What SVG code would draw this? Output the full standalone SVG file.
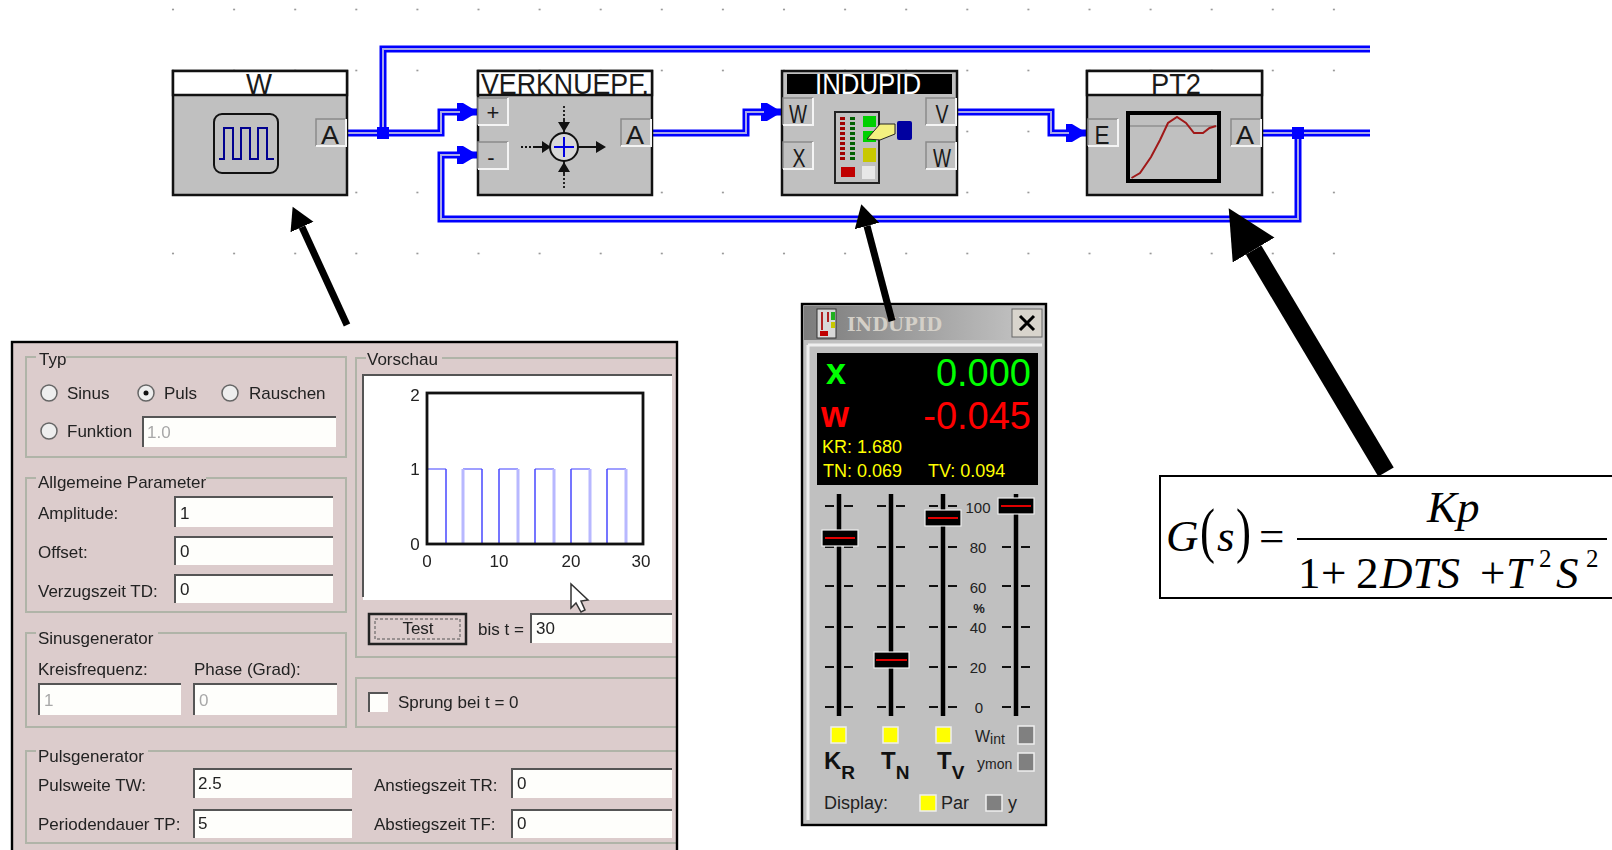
<svg xmlns="http://www.w3.org/2000/svg" width="1612" height="850" viewBox="0 0 1612 850">
<style>
text{font-family:"Liberation Sans",Arial,sans-serif}
.blk{fill:#c0c0c0;stroke:#111;stroke-width:2.5}
.ttl{fill:#fff;stroke:#111;stroke-width:2.5}
.vt{font-size:29px;fill:#1a1a1a;text-anchor:middle}
.pt{font-size:25px;fill:#1a1a1a;text-anchor:middle}
.wo{fill:none;stroke:#0000ff;stroke-width:7}
.wi{fill:none;stroke:#a8a8e8;stroke-width:2}
.dlg{fill:#dccccc}
.bd{fill:none;stroke:#000;stroke-width:2.4}
.grp{fill:none;stroke:#b0b4a8;stroke-width:2}
.t{font-size:17px;fill:#222;filter:url(#soft)}
.dis{fill:#a8a8a8}
.inp{fill:#fefefb}
.ie{fill:none;stroke:#555;stroke-width:2}
.win{font-size:38px}
.y{font-size:18px;fill:#ffff00}
.lab{font-size:15px;fill:#222;text-anchor:middle}
.trk{stroke:#000;stroke-width:4.5}
.tk{stroke:#111;stroke-width:1.8}
.th{fill:#000;stroke:#eee;stroke-width:1.2}
.tr{stroke:#e00000;stroke-width:2}
.yel{fill:#ffff00;stroke:#eee;stroke-width:1.5}
.gry{fill:#808080;stroke:#eee;stroke-width:1.5}
.f{font-family:"Liberation Serif","Times New Roman",serif;fill:#000;font-size:45px}
.fi{font-style:italic}
.rad{fill:#eee;stroke:#666;stroke-width:1.5}
.arw{fill:none;stroke:#000}
</style>
<defs>
<filter id="soft" x="-5%" y="-20%" width="110%" height="140%"><feGaussianBlur stdDeviation="0.55"/></filter>
<pattern id="dots" patternUnits="userSpaceOnUse" x="142.45" y="-21" width="61.1" height="61"><circle cx="30.55" cy="30.5" r="1.1" fill="#999"/></pattern>
<g id="port"><rect width="30" height="27" fill="#c0c0c0"/><path d="M0 27V0H30" fill="none" stroke="#8a8a8a" stroke-width="1.5"/><path d="M0 27H30V0" fill="none" stroke="#f4f4f4" stroke-width="2"/></g>
<marker id="bh" markerUnits="userSpaceOnUse" markerWidth="24" markerHeight="20" refX="21" refY="9" orient="auto"><path d="M0 0H6L21 9L6 18H0Z" fill="#0000ff"/></marker>
<marker id="hthin" markerUnits="strokeWidth" markerWidth="4" markerHeight="4" refX="0" refY="1.8" orient="auto"><path d="M0 0L3.2 1.8L0 3.6Z" fill="#000"/></marker>
<marker id="hthick" markerUnits="strokeWidth" markerWidth="3.2" markerHeight="3.2" refX="0" refY="1.35" orient="auto"><path d="M0 0L2.7 1.35L0 2.7Z" fill="#000"/></marker>
<linearGradient id="tb" x1="0" x2="1" y1="0" y2="0"><stop offset="0" stop-color="#7c7c7c"/><stop offset="1" stop-color="#c8c8c8"/></linearGradient>
</defs>
<rect width="1612" height="850" fill="#fff"/>
<rect x="165" y="0" width="1205" height="262" fill="url(#dots)"/>

<g id="connectors">
<path class="wo" d="M347 133H441V112H478" marker-end="url(#bh)"/><path class="wi" d="M347 133H441V112H460"/>
<path class="wo" d="M383 133V49H1370"/><path class="wi" d="M383 133V49H1370"/>
<path class="wo" d="M652 133H746V112H782" marker-end="url(#bh)"/><path class="wi" d="M652 133H746V112H764"/>
<path class="wo" d="M957 112H1051V133H1087" marker-end="url(#bh)"/><path class="wi" d="M957 112H1051V133H1069"/>
<path class="wo" d="M1262 133H1370"/><path class="wi" d="M1262 133H1370"/>
<path class="wo" d="M1298 133V219H441V155H478" marker-end="url(#bh)"/><path class="wi" d="M1298 133V219H441V155H460"/>
<rect x="377" y="127" width="12" height="12" fill="#0000ff"/>
<rect x="1292" y="127" width="12" height="12" fill="#0000ff"/>
</g>

<g id="node-w">
<rect class="blk" x="173" y="71" width="174" height="124"/><rect class="ttl" x="173" y="71" width="174" height="24"/>
<text class="vt" x="259" y="94" textLength="26" lengthAdjust="spacingAndGlyphs">W</text>
<rect x="214" y="114" width="64" height="59" rx="8" fill="#c0c0c0" stroke="#111" stroke-width="2"/>
<path d="M219 159H224V128H233V159H241V128H250V159H258V128H267V159H274" fill="none" stroke="#000090" stroke-width="2"/>
<use href="#port" x="316" y="119"/><text class="pt" x="330" y="144" textLength="18" lengthAdjust="spacingAndGlyphs">A</text>
</g>

<g id="node-verknuepf">
<rect class="blk" x="478" y="71" width="174" height="124"/><rect class="ttl" x="478" y="71" width="174" height="24"/>
<text class="vt" x="565" y="94" textLength="168" lengthAdjust="spacingAndGlyphs">VERKNUEPF.</text>
<use href="#port" x="478" y="98"/><text class="pt" x="493" y="120" style="font-size:22px">+</text>
<use href="#port" x="478" y="142"/><text class="pt" x="491" y="165" style="font-size:22px">-</text>
<use href="#port" x="621" y="119"/><text class="pt" x="635" y="144" textLength="18" lengthAdjust="spacingAndGlyphs">A</text>
<circle cx="564" cy="147" r="14" fill="#d8d8d8" stroke="#111" stroke-width="2"/>
<path d="M554 147H574M564 137V157" stroke="#0000e0" stroke-width="2"/>
<path d="M535 147H550M578 147H600M564 120V133M564 161V174" stroke="#111" stroke-width="1.800"/>
<path d="M521 147H535M564 106V120M564 174V188" stroke="#111" stroke-width="1.800" stroke-dasharray="2 2"/>
<path d="M551 147L542 141V153ZM606 147L596 141V153ZM564 132L558 122H570ZM564 162L558 172H570Z" fill="#111"/>
</g>

<g id="node-indupid">
<rect class="blk" x="782" y="71" width="175" height="124"/>
<rect x="787" y="74" width="165" height="20" fill="#000"/>
<text class="vt" x="868" y="94" textLength="106" lengthAdjust="spacingAndGlyphs" style="fill:#fff">INDUPID</text>
<use href="#port" x="783" y="98"/><text class="pt" x="798" y="123" textLength="18" lengthAdjust="spacingAndGlyphs">W</text>
<use href="#port" x="783" y="142"/><text class="pt" x="799" y="167" textLength="13" lengthAdjust="spacingAndGlyphs">X</text>
<use href="#port" x="926" y="98"/><text class="pt" x="942" y="123" textLength="13" lengthAdjust="spacingAndGlyphs">V</text>
<use href="#port" x="926" y="142"/><text class="pt" x="942" y="167" textLength="18" lengthAdjust="spacingAndGlyphs">W</text>
<rect x="835" y="112" width="44" height="71" fill="#c0c0c0" stroke="#222" stroke-width="2"/>
<path d="M842.500 117V160" stroke="#a00000" stroke-width="5" stroke-dasharray="3 2"/><path d="M852.500 117V160" stroke="#006000" stroke-width="5" stroke-dasharray="3 2"/>
<rect x="863" y="116" width="13" height="11" fill="#00d000"/><rect x="863" y="131" width="13" height="11" fill="#00d000"/>
<rect x="863" y="148" width="13" height="14" fill="#c8c800"/>
<rect x="841" y="167" width="14" height="10" fill="#c00000"/>
<rect x="862" y="166" width="13" height="13" fill="#e8e8e8"/>
<path d="M867 139L880 124H895V134L880 140Z" fill="#f4f080" stroke="#222" stroke-width="1"/>
<rect x="897" y="121" width="15" height="19" rx="2" fill="#0000a0"/>
</g>

<g id="node-pt2">
<rect class="blk" x="1087" y="71" width="175" height="124"/><rect class="ttl" x="1087" y="71" width="175" height="24"/>
<text class="vt" x="1176" y="94" textLength="50" lengthAdjust="spacingAndGlyphs">PT2</text>
<use href="#port" x="1088" y="119"/><text class="pt" x="1102" y="144" textLength="15" lengthAdjust="spacingAndGlyphs">E</text>
<use href="#port" x="1231" y="119"/><text class="pt" x="1245" y="144" textLength="18" lengthAdjust="spacingAndGlyphs">A</text>
<path d="M1128 126H1219" stroke="#909090" stroke-width="1.500"/>
<rect x="1128" y="113" width="91" height="68" fill="none" stroke="#000" stroke-width="4"/>
<path d="M1131.500 178L1140 173L1151 157L1160 140L1168 123L1177 117L1186 123L1194 133L1203 133L1209.500 128L1216 126" fill="none" stroke="#a01818" stroke-width="2"/>
</g>

<g id="panel-generator">
<rect class="dlg" x="12" y="342" width="665" height="520"/>
<rect class="grp" x="26" y="357" width="320" height="100"/><rect x="36" y="350" width="30" height="14" fill="#dccccc"/>
<text class="t" x="39" y="365">Typ</text>
<circle class="rad" cx="49" cy="393" r="8"/><text class="t" x="67" y="399">Sinus</text>
<circle class="rad" cx="146" cy="393" r="8"/><circle cx="146" cy="393" r="2.500" fill="#111"/><text class="t" x="164" y="399">Puls</text>
<circle class="rad" cx="230" cy="393" r="8"/><text class="t" x="249" y="399">Rauschen</text>
<circle class="rad" cx="49" cy="431" r="8"/><text class="t" x="67" y="437">Funktion</text>
<rect class="inp" x="143" y="417" width="193" height="30"/><path class="ie" d="M143 447V417H336"/><text class="t dis" x="147" y="438">1.0</text>

<rect class="grp" x="26" y="478" width="320" height="134"/><rect x="36" y="470" width="170" height="14" fill="#dccccc"/>
<text class="t" x="38" y="488">Allgemeine Parameter</text>
<text class="t" x="38" y="519">Amplitude:</text><rect class="inp" x="175" y="497" width="158" height="30"/><path class="ie" d="M175 527V497H333"/><text class="t" x="180" y="519">1</text>
<text class="t" x="38" y="558">Offset:</text><rect class="inp" x="175" y="537" width="158" height="28"/><path class="ie" d="M175 565V537H333"/><text class="t" x="180" y="557">0</text>
<text class="t" x="38" y="597">Verzugszeit TD:</text><rect class="inp" x="175" y="575" width="158" height="28"/><path class="ie" d="M175 603V575H333"/><text class="t" x="180" y="595">0</text>

<rect class="grp" x="26" y="633" width="320" height="94"/><rect x="36" y="626" width="122" height="14" fill="#dccccc"/>
<text class="t" x="38" y="644">Sinusgenerator</text>
<text class="t" x="38" y="675">Kreisfrequenz:</text><text class="t" x="194" y="675">Phase (Grad):</text>
<rect class="inp" x="39" y="684" width="142" height="31"/><path class="ie" d="M39 715V684H181"/><text class="t dis" x="44" y="706">1</text>
<rect class="inp" x="194" y="684" width="143" height="31"/><path class="ie" d="M194 715V684H337"/><text class="t dis" x="199" y="706">0</text>

<rect class="grp" x="26" y="751" width="651" height="92"/><rect x="36" y="744" width="112" height="14" fill="#dccccc"/>
<text class="t" x="38" y="762">Pulsgenerator</text>
<text class="t" x="38" y="791">Pulsweite TW:</text><rect class="inp" x="194" y="769" width="158" height="29"/><path class="ie" d="M194 798V769H352"/><text class="t" x="198" y="789">2.5</text>
<text class="t" x="38" y="830">Periodendauer TP:</text><rect class="inp" x="194" y="810" width="158" height="28"/><path class="ie" d="M194 838V810H352"/><text class="t" x="198" y="829">5</text>
<text class="t" x="374" y="791">Anstiegszeit TR:</text><rect class="inp" x="512" y="769" width="160" height="29"/><path class="ie" d="M512 798V769H672"/><text class="t" x="517" y="789">0</text>
<text class="t" x="374" y="830">Abstiegszeit TF:</text><rect class="inp" x="512" y="810" width="160" height="28"/><path class="ie" d="M512 838V810H672"/><text class="t" x="517" y="829">0</text>

<rect class="grp" x="356" y="358" width="321" height="299"/><rect x="366" y="350" width="76" height="14" fill="#dccccc"/>
<text class="t" x="367" y="365">Vorschau</text>
<rect x="363" y="375" width="309" height="225" fill="#fff"/><path class="ie" d="M363 597V375H672"/>
<path d="M427 469H446M463 469H482M499 469H518M535 469H554M571 469H590M607 469H626" fill="none" stroke="#8080ff" stroke-width="1.500"/>
<path d="M463 544V469M518 544V469M554 544V469M590 544V469M626 544V469" fill="none" stroke="#b8b8ff" stroke-width="3"/>
<path d="M446 544V469M482 544V469M499 544V469M535 544V469M571 544V469M607 544V469" fill="none" stroke="#4848ff" stroke-width="1.500"/>
<rect x="427" y="393" width="216" height="151" fill="none" stroke="#111" stroke-width="2.800"/>
<text class="t" x="415" y="401" text-anchor="middle">2</text><text class="t" x="415" y="475" text-anchor="middle">1</text><text class="t" x="415" y="550" text-anchor="middle">0</text>
<text class="t" x="427" y="567" text-anchor="middle">0</text><text class="t" x="499" y="567" text-anchor="middle">10</text><text class="t" x="571" y="567" text-anchor="middle">20</text><text class="t" x="641" y="567" text-anchor="middle">30</text>
<path d="M571 584V608L576 603L581 612L585 610L581 601L588 600Z" fill="#fff" stroke="#333" stroke-width="1.500"/>
<rect x="369" y="614" width="97" height="30" fill="#dccccc" stroke="#222" stroke-width="2.500"/><rect x="375" y="619" width="85" height="20" fill="none" stroke="#555" stroke-width="1" stroke-dasharray="3 2"/>
<text class="t" x="418" y="634" text-anchor="middle">Test</text>
<text class="t" x="478" y="635">bis t =</text>
<rect class="inp" x="531" y="614" width="141" height="29"/><path class="ie" d="M531 643V614H672"/><text class="t" x="536" y="634">30</text>
<rect class="grp" x="356" y="678" width="321" height="49"/>
<rect class="inp" x="369" y="693" width="19" height="19"/><path class="ie" d="M369 712V693H388"/>
<text class="t" x="398" y="708">Sprung bei t = 0</text>
<rect class="bd" x="12" y="342" width="665" height="520"/>
</g>

<g id="panel-indupid">
<rect x="802" y="304" width="244" height="521" fill="#c0c0c0" stroke="#000" stroke-width="2.400"/>
<rect x="804" y="306" width="240" height="34" fill="url(#tb)"/>
<rect x="817" y="309" width="19" height="29" fill="#d8d8d8" stroke="#333"/>
<path d="M822 312V330M828 312V322" stroke="#b02020" stroke-width="2"/><rect x="831" y="312" width="4" height="8" fill="#20b020"/><rect x="831" y="322" width="4" height="6" fill="#c8c800"/><rect x="820" y="331" width="8" height="5" fill="#c00000"/>
<text x="847" y="331" style="font-family:'DejaVu Serif',serif;font-weight:bold;font-size:19px;fill:#d4d0c8" textLength="95" lengthAdjust="spacingAndGlyphs">INDUPID</text>
<rect x="1012" y="309" width="30" height="28" fill="#d8d4cc" stroke="#666"/>
<path d="M1020 316L1034 330M1034 316L1020 330" stroke="#000" stroke-width="3"/>
<path d="M808 345H1042M808 345V820" stroke="#efefef" stroke-width="3" fill="none"/>
<rect x="817" y="353" width="221" height="132" fill="#000"/>
<text x="826" y="384" style="font-weight:bold;font-size:36px;fill:#00ff00">x</text>
<text class="win" x="1031" y="386" text-anchor="end" fill="#00ff00">0.000</text>
<text x="821" y="427" style="font-weight:bold;font-size:36px;fill:#ff0000">w</text>
<text class="win" x="1031" y="429" text-anchor="end" fill="#ff0000">-0.045</text>
<text class="y" x="822" y="453">KR: 1.680</text><text class="y" x="823" y="477">TN: 0.069</text><text class="y" x="928" y="477">TV: 0.094</text>
<path class="trk" d="M839 494V716M891 494V716M943 494V716M1016 494V716"/>
<path class="tk" d="M825 506H834M844 506H853M825 547H834M844 547H853M825 586H834M844 586H853M825 627H834M844 627H853M825 667H834M844 667H853M825 707H834M844 707H853M877 506H886M896 506H905M877 547H886M896 547H905M877 586H886M896 586H905M877 627H886M896 627H905M877 667H886M896 667H905M877 707H886M896 707H905M929 506H938M948 506H957M929 547H938M948 547H957M929 586H938M948 586H957M929 627H938M948 627H957M929 667H938M948 667H957M929 707H938M948 707H957M1002 506H1011M1021 506H1030M1002 547H1011M1021 547H1030M1002 586H1011M1021 586H1030M1002 627H1011M1021 627H1030M1002 667H1011M1021 667H1030M1002 707H1011M1021 707H1030"/>
<rect class="th" x="822" y="530" width="36" height="16"/><path class="tr" d="M825 538H855"/>
<rect class="th" x="874" y="652" width="35" height="16"/><path class="tr" d="M876 660H907"/>
<rect class="th" x="925" y="510" width="36" height="16"/><path class="tr" d="M928 518H958"/>
<rect class="th" x="998" y="498" width="36" height="16"/><path class="tr" d="M1001 506H1031"/>
<text class="lab" x="978" y="513">100</text><text class="lab" x="978" y="553">80</text><text class="lab" x="978" y="593">60</text>
<text class="lab" x="979" y="613" style="font-weight:bold;font-size:13px">%</text>
<text class="lab" x="978" y="633">40</text><text class="lab" x="978" y="673">20</text><text class="lab" x="979" y="713">0</text>
<rect class="yel" x="831" y="727" width="15" height="16"/><rect class="yel" x="883" y="727" width="15" height="16"/><rect class="yel" x="936" y="727" width="15" height="16"/>
<rect class="gry" x="1018" y="726" width="16" height="18"/><rect class="gry" x="1018" y="753" width="16" height="18"/>
<text x="975" y="742" style="font-size:16px;fill:#222">W<tspan dy="2" style="font-size:14px">int</tspan></text>
<text x="977" y="769" style="font-size:16px;fill:#222">y<tspan style="font-size:14px">mon</tspan></text>
<text x="824" y="769" style="font-weight:bold;font-size:24px;fill:#111">K<tspan dy="10" style="font-size:19px">R</tspan></text>
<text x="881" y="769" style="font-weight:bold;font-size:24px;fill:#111">T<tspan dy="10" style="font-size:19px">N</tspan></text>
<text x="937" y="769" style="font-weight:bold;font-size:24px;fill:#111">T<tspan dy="10" style="font-size:19px">V</tspan></text>
<text x="824" y="809" style="font-size:18px;fill:#222">Display:</text>
<rect class="yel" x="920" y="795" width="16" height="16"/><text x="941" y="809" style="font-size:18px;fill:#222">Par</text>
<rect class="gry" x="986" y="795" width="16" height="16"/><text x="1008" y="809" style="font-size:18px;fill:#222">y</text>
</g>

<g id="node-formula">
<rect x="1160" y="476" width="470" height="122" fill="#fff" stroke="#000" stroke-width="2"/>
<text class="f fi" x="1166" y="551">G</text>
<text class="f" transform="translate(1200,551) scale(1,1.35)">(</text>
<text class="f fi" x="1217" y="551">s</text>
<text class="f" transform="translate(1236,551) scale(1,1.35)">)</text>
<text class="f" x="1259" y="551">=</text>
<path d="M1297 539H1607" stroke="#000" stroke-width="2"/>
<text class="f fi" x="1427" y="522">Kp</text>
<text class="f" x="1298" y="588">1</text>
<text class="f" x="1321" y="588">+</text>
<text class="f" x="1356" y="588">2</text>
<text class="f fi" x="1380" y="588">DTS</text>
<text class="f" x="1480" y="588">+</text>
<text class="f fi" x="1506" y="588">T</text>
<text class="f" x="1539" y="567" style="font-size:25px">2</text>
<text class="f fi" x="1556" y="588">S</text>
<text class="f" x="1586" y="567" style="font-size:25px">2</text>
</g>

<g id="pointer-arrows">
<path class="arw" d="M347 325L302 227" stroke-width="7" marker-end="url(#hthin)"/>
<path class="arw" d="M892 321L867 226" stroke-width="7" marker-end="url(#hthin)"/>
<path class="arw" d="M1386 472L1253.600 250" stroke-width="18" marker-end="url(#hthick)"/>
</g>
</svg>
